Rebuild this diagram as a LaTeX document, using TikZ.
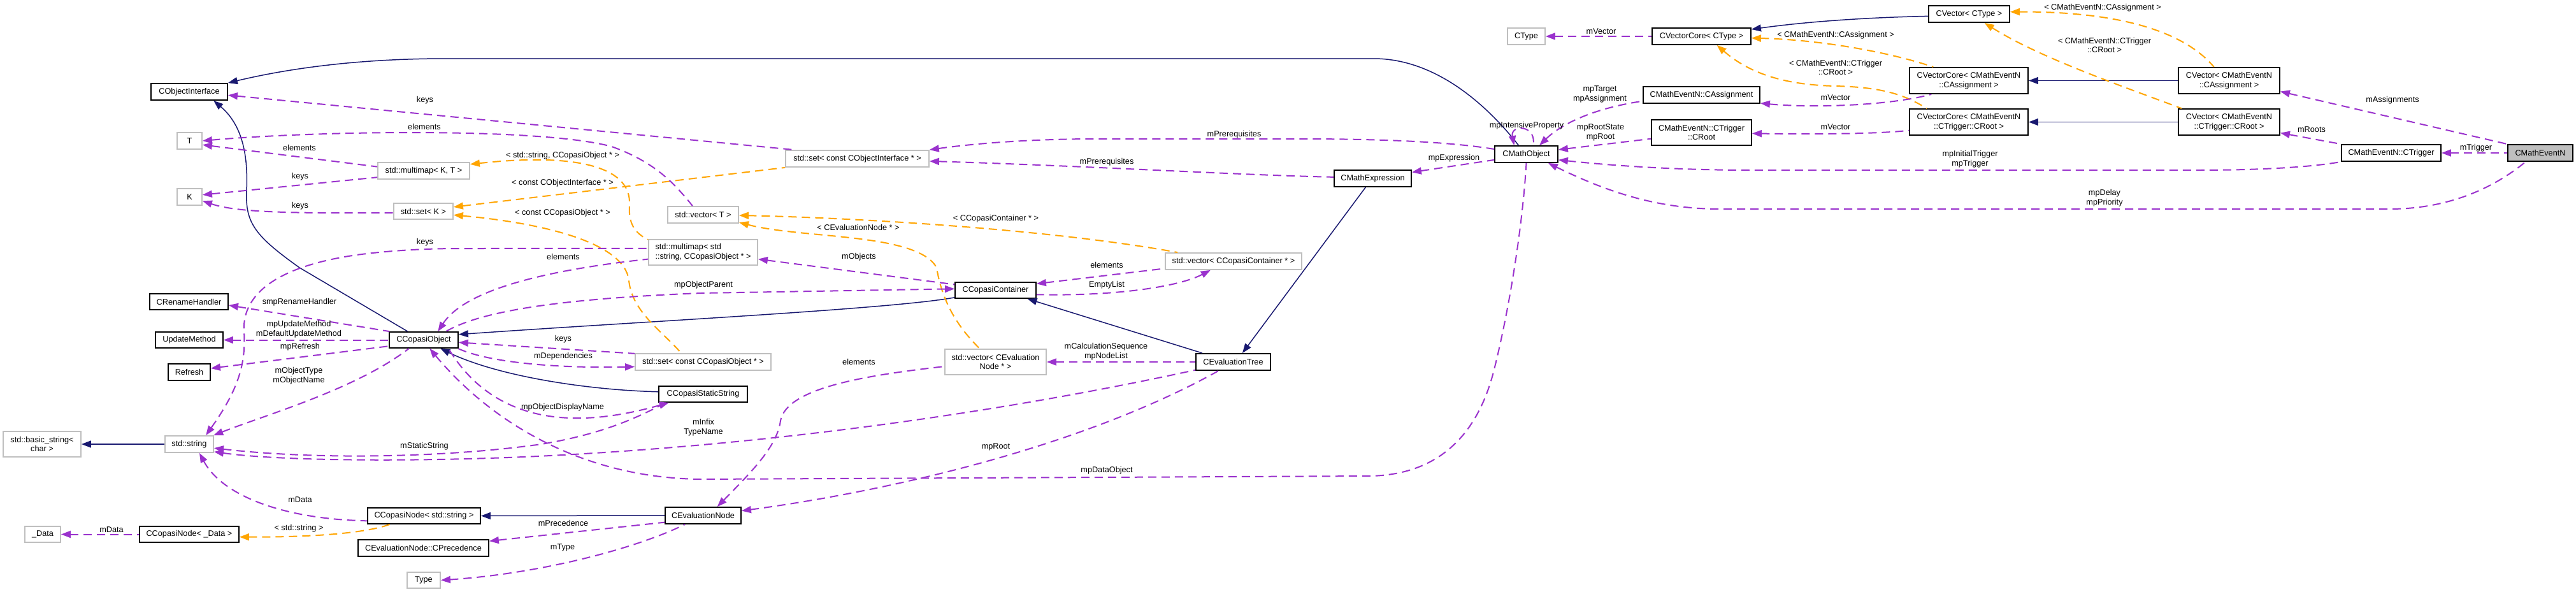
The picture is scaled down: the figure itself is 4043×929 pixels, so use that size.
\documentclass[tikz,border=0pt]{standalone}
\usepackage{fontspec}
\setmainfont{Liberation Sans}
\usetikzlibrary{arrows.meta}
\definecolor{midblue}{HTML}{191970}
\definecolor{purp}{HTML}{9A32CD}
\definecolor{orng}{HTML}{FFA500}
\definecolor{gbord}{HTML}{BFBFBF}
\tikzset{
  base/.style={font=\fontsize{12.7}{14.6}\selectfont, inner sep=0pt, align=center},
  cls/.style={base, draw=black, line width=1.8pt, fill=white},
  ext/.style={base, draw=gbord, line width=1.8pt, fill=white},
  lbl/.style={base},
  inh/.style={draw=midblue, line width=1.5pt, {Triangle[length=15pt,width=11pt]}-},
  use/.style={draw=purp, line width=2pt, dash pattern=on 13pt off 8pt, {Triangle[length=15pt,width=11pt]}-},
  tpl/.style={draw=orng, line width=2pt, dash pattern=on 13pt off 8pt, {Triangle[length=15pt,width=11pt]}-},
}
\begin{document}
\begin{tikzpicture}[x=1pt,y=-1pt]
\fill[white] (0,0) rectangle (4043,929);
\useasboundingbox (0,0) rectangle (4043,929);

% ---------- nodes ----------
\node[cls, fill=gbord, minimum width=102pt, minimum height=26pt] (CMathEventN) at (3987,240) {CMathEventN};
\node[cls, minimum width=156pt, minimum height=26pt] (CTrigger) at (3753,240) {CMathEventN::CTrigger};
\node[cls, minimum width=159pt, minimum height=41pt] (CVecAssign) at (3498.5,126.5) {CVector< CMathEventN\\::CAssignment >};
\node[cls, minimum width=159pt, minimum height=41pt] (CVecRoot) at (3498.5,191.5) {CVector< CMathEventN\\::CTrigger::CRoot >};
\node[cls, minimum width=127pt, minimum height=26pt] (CVecCType) at (3090.5,22) {CVector< CType >};
\node[cls, minimum width=186pt, minimum height=41pt] (CVCAssign) at (3090,126.5) {CVectorCore< CMathEventN\\::CAssignment >};
\node[cls, minimum width=186pt, minimum height=41pt] (CVCRoot) at (3090,191.5) {CVectorCore< CMathEventN\\::CTrigger::CRoot >};
\node[cls, minimum width=155pt, minimum height=26pt] (CVCCType) at (2670.5,57) {CVectorCore< CType >};
\node[ext, minimum width=59pt, minimum height=26pt] (CType) at (2395.5,57) {CType};
\node[cls, minimum width=183pt, minimum height=26pt] (CAssign) at (2670.5,149) {CMathEventN::CAssignment};
\node[cls, minimum width=157pt, minimum height=40pt] (CRoot) at (2670.5,208) {CMathEventN::CTrigger\\::CRoot};
\node[cls, minimum width=99pt, minimum height=26pt] (CMathObject) at (2395.5,242) {CMathObject};
\node[cls, minimum width=121pt, minimum height=26pt] (CMathExpr) at (2154.5,280) {CMathExpression};
\node[ext, minimum width=225pt, minimum height=26pt] (setCOI) at (1345.5,249) {std::set< const CObjectInterface * >};
\node[cls, minimum width=117pt, minimum height=26pt] (CEvalTree) at (1935.5,568) {CEvaluationTree};
\node[ext, minimum width=159pt, minimum height=40pt] (vecEvalNode) at (1562.5,568) {std::vector< CEvaluation\\Node * >};
\node[cls, minimum width=127pt, minimum height=25pt] (CCopasiContainer) at (1562.5,455.5) {CCopasiContainer};
\node[ext, minimum width=214pt, minimum height=26pt] (vecContainer) at (1936,410) {std::vector< CCopasiContainer * >};
\node[ext, minimum width=111pt, minimum height=26pt] (vecT) at (1103.5,337) {std::vector< T >};
\node[ext, align=left, minimum width=171pt, minimum height=40pt] (multimapStr) at (1103.5,396) {std::multimap< std\\::string, CCopasiObject * >};
\node[ext, minimum width=213pt, minimum height=26pt] (setCCO) at (1103.5,568) {std::set< const CCopasiObject * >};
\node[cls, minimum width=139pt, minimum height=25pt] (CCStaticString) at (1103.5,618.5) {CCopasiStaticString};
\node[cls, minimum width=119pt, minimum height=26pt] (CEvalNode) at (1103.5,809) {CEvaluationNode};
\node[cls, minimum width=177pt, minimum height=25pt] (CCNodeStr) at (665.5,809.5) {CCopasiNode< std::string >};
\node[cls, minimum width=205pt, minimum height=26pt] (CPrecedence) at (664.5,860) {CEvaluationNode::CPrecedence};
\node[ext, minimum width=52pt, minimum height=25pt] (TypeN) at (665,910.5) {Type};
\node[cls, minimum width=108pt, minimum height=25pt] (CCopasiObject) at (665,533.5) {CCopasiObject};
\node[ext, minimum width=144pt, minimum height=26pt] (multimapKT) at (665,268) {std::multimap< K, T >};
\node[ext, minimum width=93pt, minimum height=25pt] (setK) at (664.5,331.5) {std::set< K >};
\node[cls, minimum width=120pt, minimum height=26pt] (CObjectInterface) at (297,144) {CObjectInterface};
\node[ext, minimum width=39pt, minimum height=26pt] (nT) at (297.5,221) {T};
\node[ext, minimum width=39pt, minimum height=26pt] (nK) at (297.5,309) {K};
\node[cls, minimum width=123pt, minimum height=25pt] (CRenameHandler) at (296.5,473.5) {CRenameHandler};
\node[cls, minimum width=106pt, minimum height=25pt] (UpdateMethod) at (297,533.5) {UpdateMethod};
\node[cls, minimum width=66pt, minimum height=26pt] (Refresh) at (297,584) {Refresh};
\node[ext, minimum width=76pt, minimum height=26pt] (stdstring) at (297,697) {std::string};
\node[ext, minimum width=122pt, minimum height=40pt] (basicstring) at (66,697) {std::basic\_string<\\char >};
\node[cls, minimum width=156pt, minimum height=25pt] (CCNodeData) at (297,838.5) {CCopasiNode< \_Data >};
\node[ext, minimum width=56pt, minimum height=25pt] (DataN) at (67,838.5) {\_Data};

% ---------- inheritance ----------
\draw[inh] (CObjectInterface.north east) .. controls (450,108) and (560,92) .. (700,92) -- (2156,92) .. controls (2250,92) and (2330,160) .. (CMathObject.131);
\draw[inh] (CObjectInterface.-20) .. controls (385,200) and (389,255) .. (387,300) .. controls (385,350) and (400,370) .. (470,420) -- (CCopasiObject.152);
\draw[inh] (CCopasiObject.9) .. controls (1000,505) and (1400,485) .. (CCopasiContainer.190);
\draw[inh] (CCopasiObject.-27) .. controls (780,590) and (920,612) .. (CCStaticString.177);
\draw[inh] (CCopasiContainer.-15) -- (CEvalTree.164);
\draw[inh] (CEvalTree.44) -- (CMathExpr.-129);
\draw[inh] (basicstring.east) -- (stdstring.west);
\draw[inh] (CCNodeStr.east) -- (CEvalNode.west);
\draw[inh] (CVCCType.8) .. controls (2850,32) and (2950,27) .. (CVecCType.183);
\draw[inh] (CVCAssign.east) -- (CVecAssign.west);
\draw[inh] (CVCRoot.east) -- (CVecRoot.west);

% ---------- template instances ----------
\draw[tpl] (CVCCType.-2) .. controls (2850,62) and (2960,80) .. (CVCAssign.159);
\draw[tpl] (CVCCType.-30) .. controls (2740,110) and (2790,133) .. (2880,135) .. controls (2960,137) and (2990,150) .. (CVCRoot.162);
\draw[tpl] (CVecCType.3) .. controls (3300,18) and (3420,40) .. (CVecAssign.138);
\draw[tpl] (CVecCType.-30) .. controls (3200,90) and (3330,135) .. (CVecRoot.164);
\draw[tpl] (setK.8) -- (setCOI.187);
\draw[tpl] (setK.-7) .. controls (850,350) and (980,380) .. (987,440) .. controls (992,490) and (1040,520) .. (setCCO.158);
\draw[tpl] (multimapKT.8) .. controls (900,240) and (990,260) .. (988,320) .. controls (986,350) and (995,365) .. (multimapStr.167);
\draw[tpl] (vecT.-1) .. controls (1350,342) and (1650,360) .. (vecContainer.171);
\draw[tpl] (vecT.-12) .. controls (1260,375) and (1440,365) .. (1470,420) .. controls (1478,470) and (1500,510) .. (vecEvalNode.140);
\draw[tpl] (CCNodeData.-3) .. controls (480,843) and (570,838) .. (CCNodeStr.194);

% ---------- usage ----------
\draw[use] (CTrigger.east) -- (CMathEventN.west);
\draw[use] (CVecAssign.-12) -- (CMathEventN.north west);
\draw[use] (CVecRoot.-12) -- (CTrigger.170);
\draw[use] (CMathObject.-10) .. controls (2550,262) and (2650,267) .. (2750,267) -- (3450,267) .. controls (3550,267) and (3630,262) .. (CTrigger.190);
\draw[use] (CMathObject.-22) .. controls (2520,300) and (2600,328) .. (2700,328) -- (3750,328) .. controls (3850,328) and (3920,290) .. (CMathEventN.211);
\draw[use] (CRoot.-1) .. controls (2850,211) and (2950,210) .. (CVCRoot.188);
\draw[use] (CAssign.-8) .. controls (2850,170) and (2970,165) .. (CVCAssign.200);
\draw[use] (CType.east) -- (CVCCType.west);
\draw[use] (CMathObject.34) .. controls (2450,195) and (2500,170) .. (CAssign.186);
\draw[use] (CMathObject.8) -- (CRoot.187);
\draw[use] (CMathObject.144) .. controls (2370,195) and (2412,195) .. (CMathObject.52);
\draw[use] (CMathExpr.9) -- (CMathObject.190);
\draw[use] (setCOI.7) .. controls (1530,225) and (1620,218) .. (1720,218) -- (2040,218) .. controls (2200,218) and (2290,225) .. (CMathObject.171);
\draw[use] (setCOI.-2) .. controls (1700,260) and (1950,275) .. (CMathExpr.178);
\draw[use] (CCopasiObject.-55) .. controls (760,650) and (900,750) .. (1100,752) -- (2150,747) .. controls (2260,745) and (2320,680) .. (2345,580) .. controls (2370,480) and (2390,350) .. (CMathObject.south);
\draw[use] (CCStaticString.194) .. controls (950,660) and (790,690) .. (CCopasiObject.-19);
\draw[use] (stdstring.-9) .. controls (500,722) and (700,718) .. (850,697) .. controls (950,680) and (1000,655) .. (CCStaticString.193);
\draw[use] (stdstring.-17) .. controls (450,725) and (700,725) .. (900,713) .. controls (1300,690) and (1650,630) .. (CEvalTree.192);
\draw[use] (stdstring.20) .. controls (420,650) and (560,610) .. (CCopasiObject.210);
\draw[use] (CRenameHandler.-5) -- (CCopasiObject.166);
\draw[use] (UpdateMethod.east) -- (CCopasiObject.west);
\draw[use] (Refresh.10) -- (CCopasiObject.190);
\draw[use] (stdstring.28) .. controls (375,610) and (386,570) .. (383,520) .. controls (380,470) and (420,420) .. (560,400) .. controls (620,392) and (680,390) .. (720,390) -- (multimapStr.176);
\draw[use] (CCopasiObject.31) .. controls (720,470) and (800,430) .. (multimapStr.187);
\draw[use] (multimapStr.-7) -- (CCopasiContainer.172);
\draw[use] (CCopasiContainer.178) -- (1100,460) .. controls (900,468) and (760,485) .. (CCopasiObject.21);
\draw[use] (CCopasiObject.-4) -- (setCCO.173);
\draw[use] (setCCO.184) .. controls (880,578) and (770,570) .. (CCopasiObject.-14);
\draw[use] (CCopasiContainer.9) -- (vecContainer.186);
\draw[use] (vecContainer.201) .. controls (1850,450) and (1750,465) .. (CCopasiContainer.-6);
\draw[use] (vecEvalNode.east) -- (CEvalTree.west);
\draw[use] (CEvalNode.32) .. controls (1180,740) and (1220,700) .. (1225,660) .. controls (1235,610) and (1350,590) .. (vecEvalNode.185);
\draw[use] (CEvalNode.7) .. controls (1400,770) and (1700,700) .. (CEvalTree.211);
\draw[use] (CPrecedence.6) -- (CEvalNode.190);
\draw[use] (TypeN.east) .. controls (850,900) and (1000,860) .. (CEvalNode.206);
\draw[use] (stdstring.-41) .. controls (350,780) and (450,815) .. (CCNodeStr.185);
\draw[use] (DataN.east) -- (CCNodeData.west);
\draw[use] (nT.east) .. controls (500,205) and (850,200) .. (960,230) .. controls (1030,255) and (1060,290) .. (vecT.140);
\draw[use] (nT.-17) -- (multimapKT.175);
\draw[use] (nK.9) -- (multimapKT.188);
\draw[use] (nK.-17) .. controls (370,333) and (450,335) .. (setK.183);
\draw[use] (CObjectInterface.-5) -- (setCOI.172);

% ---------- labels ----------
\node[lbl] (l1) at (3886,232) {mTrigger};
\node[lbl] (l2) at (3755,157) {mAssignments};
\node[lbl] (l3) at (3628,203) {mRoots};
\node[lbl] (l4) at (3092,250) {mpInitialTrigger\\mpTrigger};
\node[lbl] (l5) at (3303,311) {mpDelay\\mpPriority};
\node[lbl] (l6) at (3300,12) {< CMathEventN::CAssignment >};
\node[lbl] (l7) at (3303,71) {< CMathEventN::CTrigger\\::CRoot >};
\node[lbl] (l8) at (2881,55) {< CMathEventN::CAssignment >};
\node[lbl] (l9) at (2881,106) {< CMathEventN::CTrigger\\::CRoot >};
\node[lbl] (l10) at (2881,153) {mVector};
\node[lbl] (l11) at (2881,199) {mVector};
\node[lbl] (l12) at (2513,49) {mVector};
\node[lbl] (l13) at (2511,148) {mpTarget\\mpAssignment};
\node[lbl] (l14) at (2512,208) {mpRootState\\mpRoot};
\node[lbl] (l15) at (2396,197) {mpIntensiveProperty};
\node[lbl] (l16) at (2282,248) {mpExpression};
\node[lbl] (l17) at (1937,211) {mPrerequisites};
\node[lbl] (l18) at (1737,254) {mPrerequisites};
\node[lbl] (l19) at (1737,738) {mpDataObject};
\node[lbl] (l20) at (1736,552) {mCalculationSequence\\mpNodeList};
\node[lbl] (l21) at (1737,416) {elements};
\node[lbl] (l22) at (1737,447) {EmptyList};
\node[lbl] (l23) at (1563,701) {mpRoot};
\node[lbl] (l24) at (1563,343) {< CCopasiContainer * >};
\node[lbl] (l25) at (1347,357) {< CEvaluationNode * >};
\node[lbl] (l26) at (1348,403) {mObjects};
\node[lbl] (l27) at (1348,568) {elements};
\node[lbl] (l28) at (1104,447) {mpObjectParent};
\node[lbl] (l29) at (1104,671) {mInfix\\TypeName};
\node[lbl] (l30) at (883,244) {< std::string, CCopasiObject * >};
\node[lbl] (l31) at (883,287) {< const CObjectInterface * >};
\node[lbl] (l32) at (883,334) {< const CCopasiObject * >};
\node[lbl] (l33) at (884,403) {elements};
\node[lbl] (l34) at (884,532) {keys};
\node[lbl] (l35) at (884,559) {mDependencies};
\node[lbl] (l36) at (883,639) {mpObjectDisplayName};
\node[lbl] (l37) at (884,821) {mPrecedence};
\node[lbl] (l38) at (883,859) {mType};
\node[lbl] (l39) at (667,157) {keys};
\node[lbl] (l40) at (666,199) {elements};
\node[lbl] (l41) at (667,380) {keys};
\node[lbl] (l42) at (666,700) {mStaticString};
\node[lbl] (l43) at (470,232) {elements};
\node[lbl] (l44) at (471,277) {keys};
\node[lbl] (l45) at (471,323) {keys};
\node[lbl] (l46) at (470,474) {smpRenameHandler};
\node[lbl] (l47) at (469,517) {mpUpdateMethod\\mDefaultUpdateMethod};
\node[lbl] (l48) at (471,544) {mpRefresh};
\node[lbl] (l49) at (469,590) {mObjectType\\mObjectName};
\node[lbl] (l50) at (471,784) {mData};
\node[lbl] (l51) at (469,829) {< std::string >};
\node[lbl] (l52) at (175,831) {mData};
\end{tikzpicture}
\end{document}
